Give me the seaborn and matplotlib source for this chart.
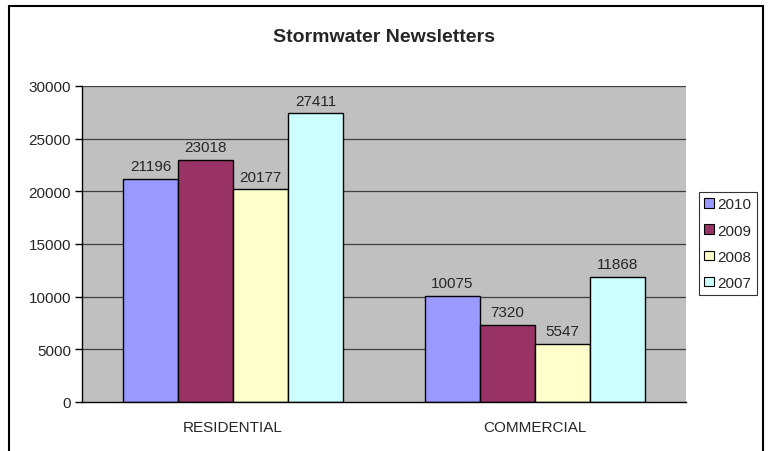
import matplotlib
matplotlib.use("Agg")
import matplotlib.pyplot as plt
import seaborn as sns
import pandas as pd
from matplotlib.patches import Rectangle, Patch
from matplotlib.ticker import FixedLocator

categories = ["RESIDENTIAL", "COMMERCIAL"]
years = ["2010", "2009", "2008", "2007"]
values_2010 = [21196, 10075]
values_2009 = [23018, 7320]
values_2008 = [20177, 5547]
values_2007 = [27411, 11868]
colors = ["#9999FF", "#993366", "#FFFFCC", "#CCFFFF"]
yticks = [0, 5000, 10000, 15000, 20000, 25000, 30000]

series = {"2010": values_2010, "2009": values_2009, "2008": values_2008, "2007": values_2007}
rows = []
for y in years:
    for c, v in zip(categories, series[y]):
        rows.append({"category": c, "year": y, "value": v})
df = pd.DataFrame(rows)

sns.set_style("white")
plt.rcParams["font.family"] = ["Liberation Sans", "DejaVu Sans"]

fig = plt.figure(figsize=(7.68, 4.52), dpi=100)
ax = fig.add_axes([82/768, 1-403/452, (686-82)/768, (403-87)/452])
ax.set_facecolor("#C0C0C0")

sns.barplot(data=df, x="category", y="value", hue="year", order=categories,
            hue_order=years, palette=colors, width=0.728, saturation=1,
            edgecolor="black", linewidth=1, ax=ax, legend=False, zorder=3)

for cont in ax.containers:
    ax.bar_label(cont, fmt="%d", padding=4, fontsize=11)

ax.set_ylim(0, 30000)
ax.set_xlim(-0.5, 1.5)
ax.set_yticks(yticks)
ax.set_yticklabels([str(t) for t in yticks], fontsize=11)
for t in yticks[1:]:
    ax.axhline(t, color="#404040", linewidth=0.9, zorder=1)

ax.xaxis.set_major_locator(FixedLocator([0, 1]))
ax.set_xticklabels(categories, fontsize=11)
ax.xaxis.set_minor_locator(FixedLocator([-0.5, 0.5, 1.5]))
ax.tick_params(axis="x", which="major", length=0, pad=13)
ax.tick_params(axis="x", which="minor", length=5, width=1, color="black", direction="out")
ax.tick_params(axis="y", length=5, width=1, color="black", direction="out", pad=3, left=True)
ax.set_xlabel("")
ax.set_ylabel("")
for s in ["top", "right"]:
    ax.spines[s].set_visible(False)
for s in ["left", "bottom"]:
    ax.spines[s].set_color("black")
    ax.spines[s].set_linewidth(1)
    ax.spines[s].set_zorder(4)

fig.text(0.5, 1-37/452, "Stormwater Newsletters", ha="center", va="center",
         fontsize=14, fontweight="bold")

handles = [Patch(facecolor=c, edgecolor="black", linewidth=0.8) for c in colors]
leg = fig.legend(handles, years, loc="upper left",
                 bbox_to_anchor=(699/768, 1-193/452), fontsize=11,
                 frameon=True, fancybox=False, handlelength=0.6, handleheight=0.6,
                 handletextpad=0.25, labelspacing=0.8, borderpad=0.35,
                 borderaxespad=0)
leg.get_frame().set_edgecolor("black")
leg.get_frame().set_linewidth(0.8)

fig.patches.append(Rectangle((9/768, -0.05), (763-9)/768, 1.05-7/452,
                             transform=fig.transFigure, fill=False,
                             edgecolor="black", linewidth=1.5, figure=fig))

fig.savefig("out.png", dpi=100)
